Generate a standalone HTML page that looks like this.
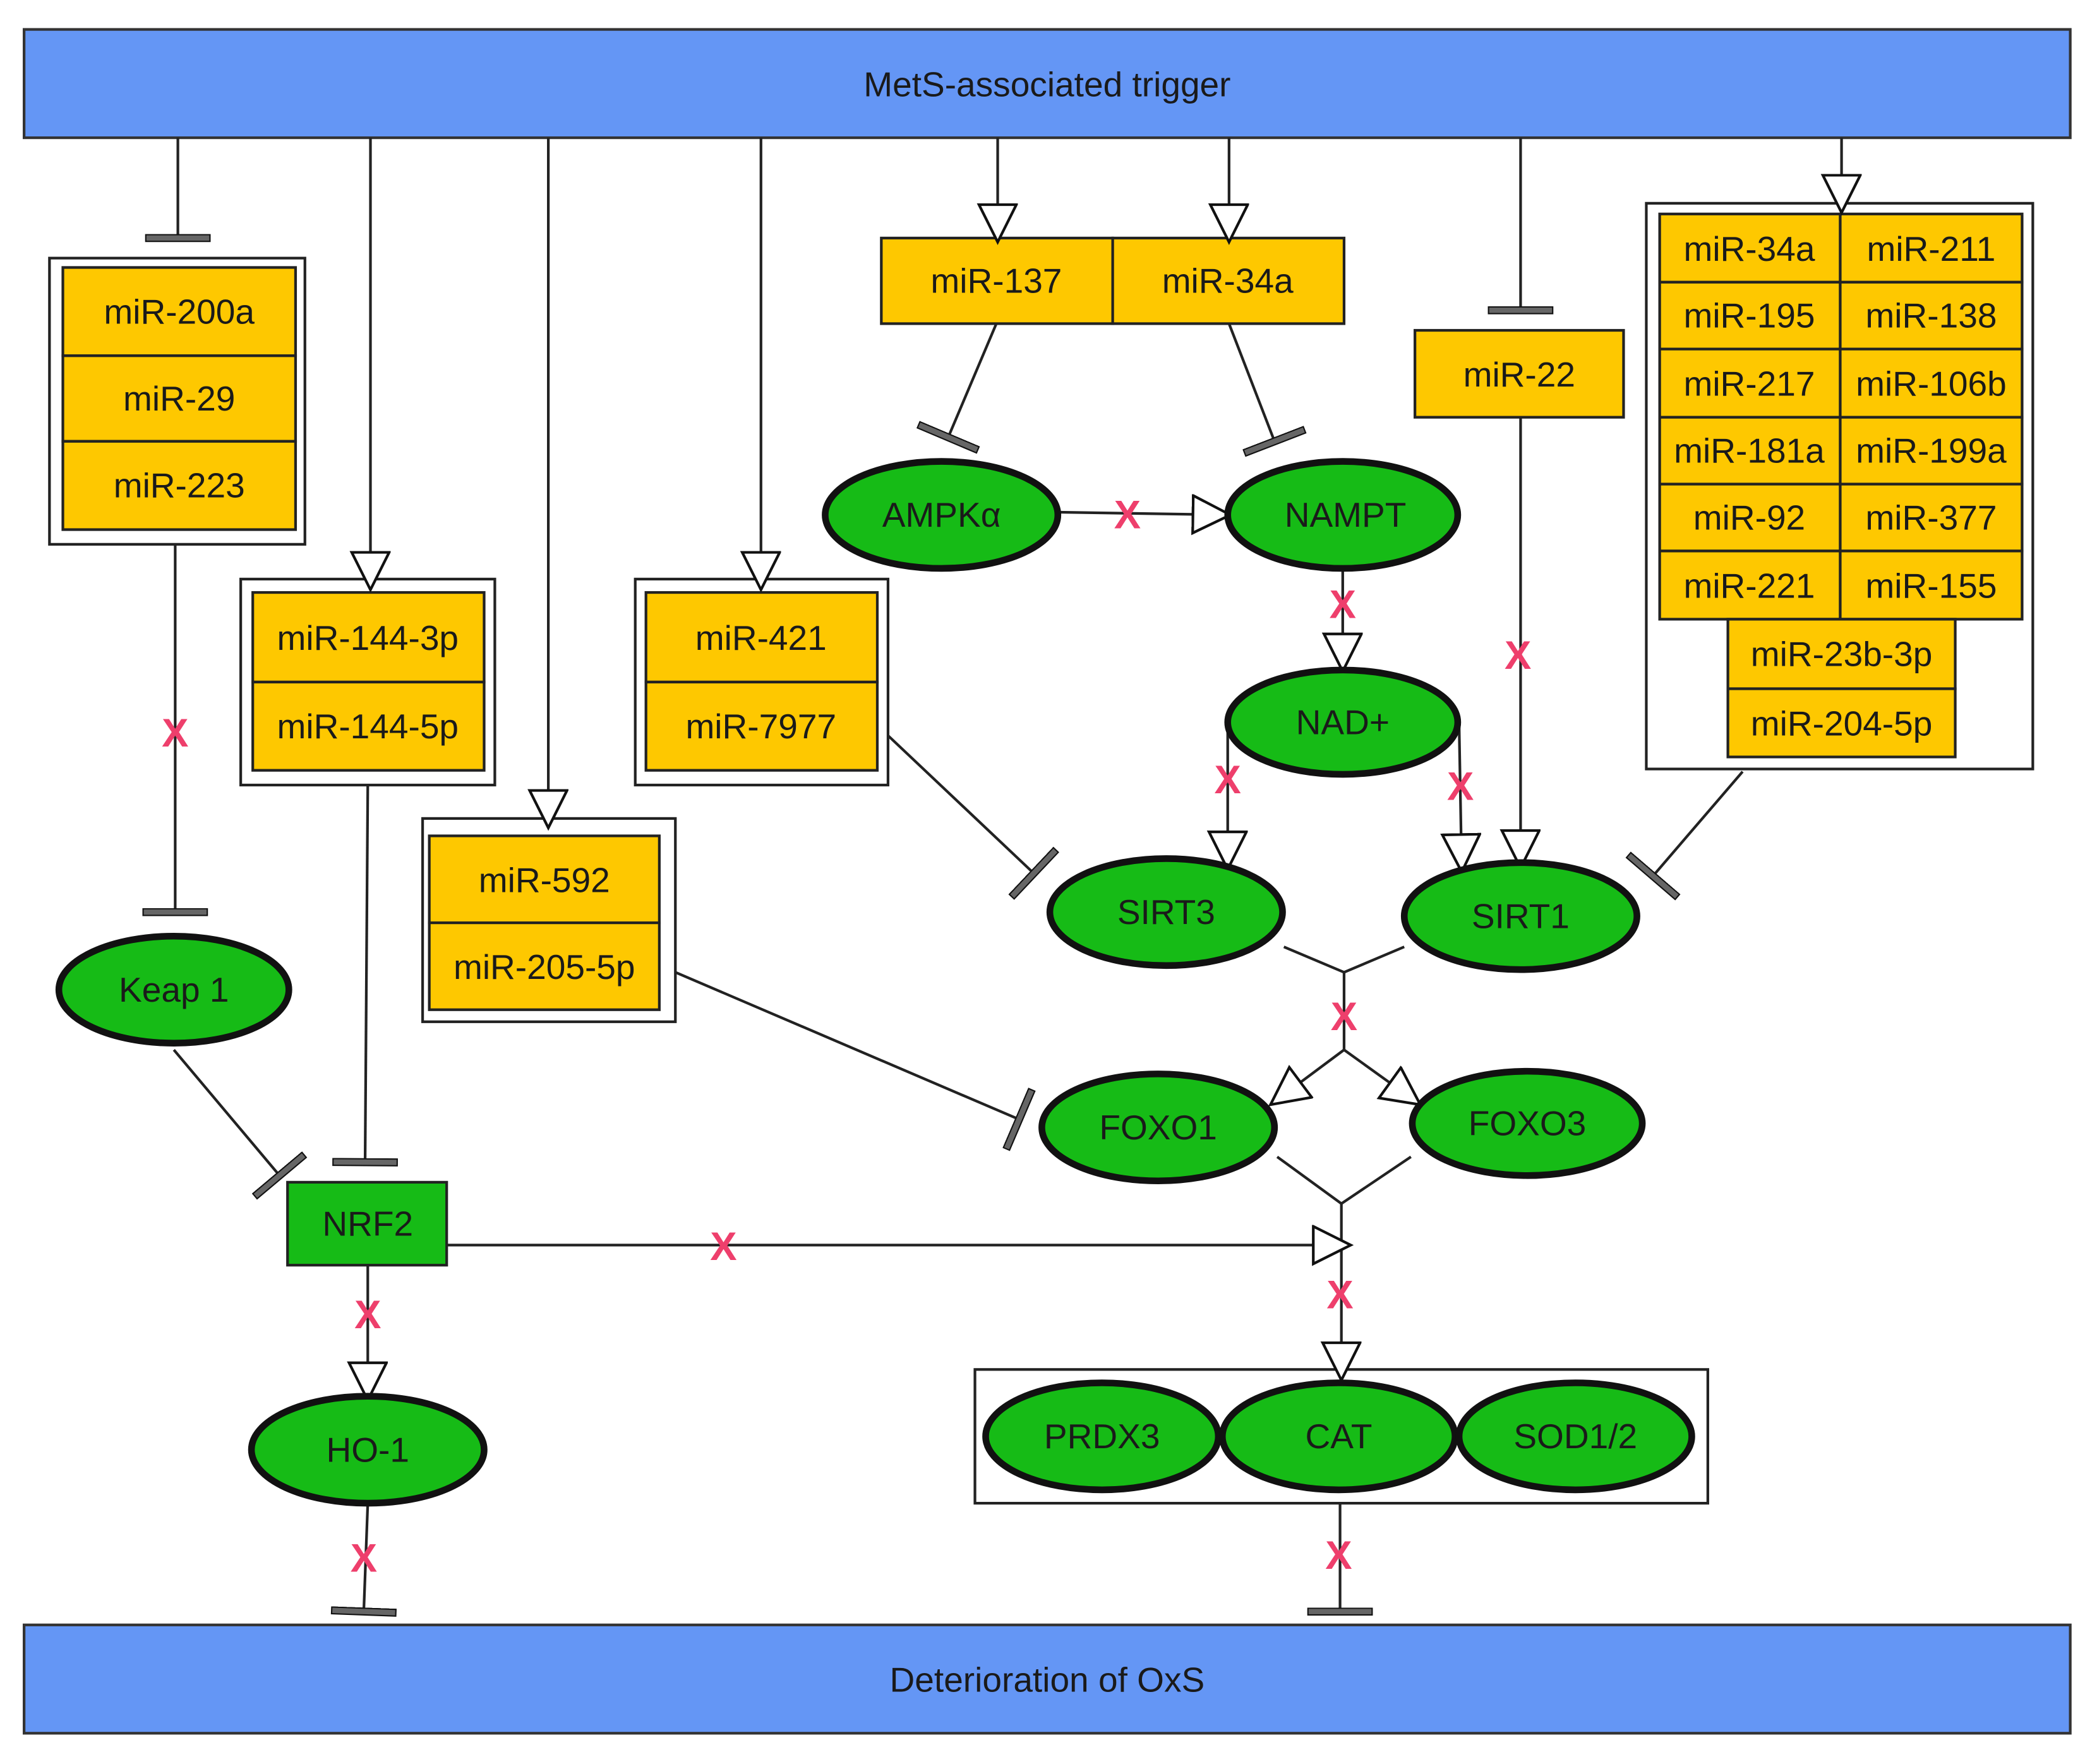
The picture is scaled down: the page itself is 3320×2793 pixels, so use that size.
<!DOCTYPE html>
<html><head><meta charset="utf-8">
<style>
html,body{margin:0;padding:0;background:#fff;}
svg{display:block;}
text{font-family:"Liberation Sans",sans-serif;fill:#1a1a1a;}
</style></head>
<body>
<svg width="3320" height="2793" viewBox="0 0 1568 1319" preserveAspectRatio="none" xmlns="http://www.w3.org/2000/svg">
<defs>
<marker id="ar" markerUnits="userSpaceOnUse" markerWidth="32" markerHeight="32" refX="29" refY="15" orient="auto" viewBox="0 0 32 32">
<path d="M1,1 L29,15 L1,29 Z" fill="#fff" stroke="#111" stroke-width="2"/>
</marker>
<marker id="tb" markerUnits="userSpaceOnUse" markerWidth="10" markerHeight="50" refX="3" refY="25" orient="auto" viewBox="0 0 10 50">
<rect x="0.5" y="1" width="5" height="48" fill="#666" stroke="#111" stroke-width="1"/>
</marker>
</defs>
<g stroke="#222" stroke-width="2" fill="none">
<!-- top/bottom bars -->
<rect x="18" y="22" width="1530" height="81" fill="#6496f5" stroke="#333"/>
<rect x="18" y="1215" width="1530" height="81" fill="#6496f5" stroke="#333"/>

<!-- group outlines -->
<rect x="37" y="193" width="191" height="214" fill="#fff"/>
<rect x="180" y="433" width="190" height="154" fill="#fff"/>
<rect x="316" y="612" width="189" height="152" fill="#fff"/>
<rect x="475" y="433" width="189" height="154" fill="#fff"/>
<rect x="1231" y="152" width="289" height="423" fill="#fff"/>
<rect x="729" y="1024" width="548" height="100" fill="#fff"/>

<!-- yellow boxes -->
<g fill="#fec800">
<rect x="47" y="200" width="174" height="66"/><rect x="47" y="266" width="174" height="64"/><rect x="47" y="330" width="174" height="66"/>
<rect x="189" y="443" width="173" height="67"/><rect x="189" y="510" width="173" height="66"/>
<rect x="321" y="625" width="172" height="65"/><rect x="321" y="690" width="172" height="65"/>
<rect x="483" y="443" width="173" height="67"/><rect x="483" y="510" width="173" height="66"/>
<rect x="659" y="178" width="173" height="64"/><rect x="832" y="178" width="173" height="64"/>
<rect x="1058" y="247" width="156" height="65"/>
<rect x="1241" y="160" width="135" height="51"/><rect x="1376" y="160" width="136" height="51"/>
<rect x="1241" y="211" width="135" height="50"/><rect x="1376" y="211" width="136" height="50"/>
<rect x="1241" y="261" width="135" height="51"/><rect x="1376" y="261" width="136" height="51"/>
<rect x="1241" y="312" width="135" height="50"/><rect x="1376" y="312" width="136" height="50"/>
<rect x="1241" y="362" width="135" height="50"/><rect x="1376" y="362" width="136" height="50"/>
<rect x="1241" y="412" width="135" height="51"/><rect x="1376" y="412" width="136" height="51"/>
<rect x="1292" y="463" width="170" height="52"/><rect x="1292" y="515" width="170" height="51"/>
</g>

<!-- NRF2 -->
<rect x="215" y="884" width="119" height="62" fill="#16bb16" stroke="#222"/>

<!-- connectors -->
<line x1="133" y1="103" x2="133" y2="178" marker-end="url(#tb)"/>
<line x1="131" y1="407" x2="131" y2="682" marker-end="url(#tb)"/>
<line x1="130" y1="785" x2="209" y2="879" marker-end="url(#tb)"/>
<line x1="277" y1="103" x2="277" y2="441" marker-end="url(#ar)"/>
<line x1="275" y1="587" x2="273" y2="869" marker-end="url(#tb)"/>
<line x1="410" y1="103" x2="410" y2="619" marker-end="url(#ar)"/>
<line x1="505" y1="727" x2="762" y2="837" marker-end="url(#tb)"/>
<line x1="569" y1="103" x2="569" y2="441" marker-end="url(#ar)"/>
<line x1="664" y1="550" x2="773" y2="653" marker-end="url(#tb)"/>
<line x1="746" y1="103" x2="746" y2="181" marker-end="url(#ar)"/>
<line x1="919" y1="103" x2="919" y2="181" marker-end="url(#ar)"/>
<line x1="745" y1="242" x2="709" y2="327" marker-end="url(#tb)"/>
<line x1="919" y1="242" x2="953" y2="330" marker-end="url(#tb)"/>
<line x1="792" y1="383" x2="920" y2="385" marker-end="url(#ar)"/>
<line x1="1004" y1="425" x2="1004" y2="502" marker-end="url(#ar)"/>
<polyline points="918,540 918,650" marker-end="url(#ar)"/>
<polyline points="1091,540 1093,652" marker-end="url(#ar)"/>
<line x1="1137" y1="103" x2="1137" y2="232" marker-end="url(#tb)"/>
<line x1="1137" y1="312" x2="1137" y2="649" marker-end="url(#ar)"/>
<line x1="1377" y1="103" x2="1377" y2="159" marker-end="url(#ar)"/>
<line x1="1303" y1="577" x2="1236" y2="655" marker-end="url(#tb)"/>
<polyline points="960,708 1005,727 1050,708"/>
<line x1="1005" y1="727" x2="1005" y2="785"/>
<line x1="1005" y1="785" x2="950" y2="826" marker-end="url(#ar)"/>
<line x1="1005" y1="785" x2="1062" y2="826" marker-end="url(#ar)"/>
<polyline points="955,865 1003,900 1055,865"/>
<line x1="1003" y1="900" x2="1003" y2="1032" marker-end="url(#ar)"/>
<line x1="334" y1="931" x2="1010" y2="931" marker-end="url(#ar)"/>
<line x1="275" y1="946" x2="275" y2="1047" marker-end="url(#ar)"/>
<line x1="275" y1="1124" x2="272" y2="1205" marker-end="url(#tb)"/>
<line x1="1002" y1="1124" x2="1002" y2="1205" marker-end="url(#tb)"/>

<!-- ellipses -->
<g fill="#16bb16" stroke="#111" stroke-width="5">
<ellipse cx="130" cy="740" rx="86" ry="40"/>
<ellipse cx="704" cy="385" rx="87" ry="40"/>
<ellipse cx="1004" cy="385" rx="86" ry="40"/>
<ellipse cx="1004" cy="540" rx="86" ry="39"/>
<ellipse cx="872" cy="682" rx="87" ry="40"/>
<ellipse cx="1137" cy="685" rx="87" ry="40"/>
<ellipse cx="866" cy="843" rx="87" ry="40"/>
<ellipse cx="1142" cy="840" rx="86" ry="39"/>
<ellipse cx="275" cy="1084" rx="87" ry="40"/>
<ellipse cx="824" cy="1074" rx="87" ry="40"/>
<ellipse cx="1001" cy="1074" rx="87" ry="40"/>
<ellipse cx="1178" cy="1074" rx="87" ry="40"/>
</g>
</g>

<g font-size="26" text-anchor="middle" dominant-baseline="central">
<text x="783" y="63">MetS-associated trigger</text>
<text x="783" y="1256">Deterioration of OxS</text>
<text x="134" y="233">miR-200a</text><text x="134" y="298">miR-29</text><text x="134" y="363">miR-223</text>
<text x="275" y="477">miR-144-3p</text><text x="275" y="543">miR-144-5p</text>
<text x="407" y="658">miR-592</text><text x="407" y="723">miR-205-5p</text>
<text x="569" y="477">miR-421</text><text x="569" y="543">miR-7977</text>
<text x="745" y="210">miR-137</text><text x="918" y="210">miR-34a</text>
<text x="1136" y="280">miR-22</text>
<text x="1308" y="186">miR-34a</text><text x="1444" y="186">miR-211</text>
<text x="1308" y="236">miR-195</text><text x="1444" y="236">miR-138</text>
<text x="1308" y="287">miR-217</text><text x="1444" y="287">miR-106b</text>
<text x="1308" y="337">miR-181a</text><text x="1444" y="337">miR-199a</text>
<text x="1308" y="387">miR-92</text><text x="1444" y="387">miR-377</text>
<text x="1308" y="438">miR-221</text><text x="1444" y="438">miR-155</text>
<text x="1377" y="489">miR-23b-3p</text><text x="1377" y="541">miR-204-5p</text>
<text x="130" y="740">Keap 1</text>
<text x="275" y="915">NRF2</text>
<text x="704" y="385">AMPKα</text>
<text x="1006" y="385">NAMPT</text>
<text x="1004" y="540">NAD+</text>
<text x="872" y="682">SIRT3</text>
<text x="1137" y="685">SIRT1</text>
<text x="866" y="843">FOXO1</text>
<text x="1142" y="840">FOXO3</text>
<text x="275" y="1084">HO-1</text>
<text x="824" y="1074">PRDX3</text>
<text x="1001" y="1074">CAT</text>
<text x="1178" y="1074">SOD1/2</text>
</g>

<g font-size="30" font-weight="bold" text-anchor="middle" dominant-baseline="central" style="fill:#ee3f6c">
<text x="131" y="548" style="fill:#ee3f6c">X</text>
<text x="843" y="385" style="fill:#ee3f6c">X</text>
<text x="1004" y="452" style="fill:#ee3f6c">X</text>
<text x="918" y="583" style="fill:#ee3f6c">X</text>
<text x="1092" y="588" style="fill:#ee3f6c">X</text>
<text x="1135" y="490" style="fill:#ee3f6c">X</text>
<text x="1005" y="760" style="fill:#ee3f6c">X</text>
<text x="1002" y="968" style="fill:#ee3f6c">X</text>
<text x="541" y="932" style="fill:#ee3f6c">X</text>
<text x="275" y="983" style="fill:#ee3f6c">X</text>
<text x="272" y="1165" style="fill:#ee3f6c">X</text>
<text x="1001" y="1163" style="fill:#ee3f6c">X</text>
</g>
</svg>
</body></html>
